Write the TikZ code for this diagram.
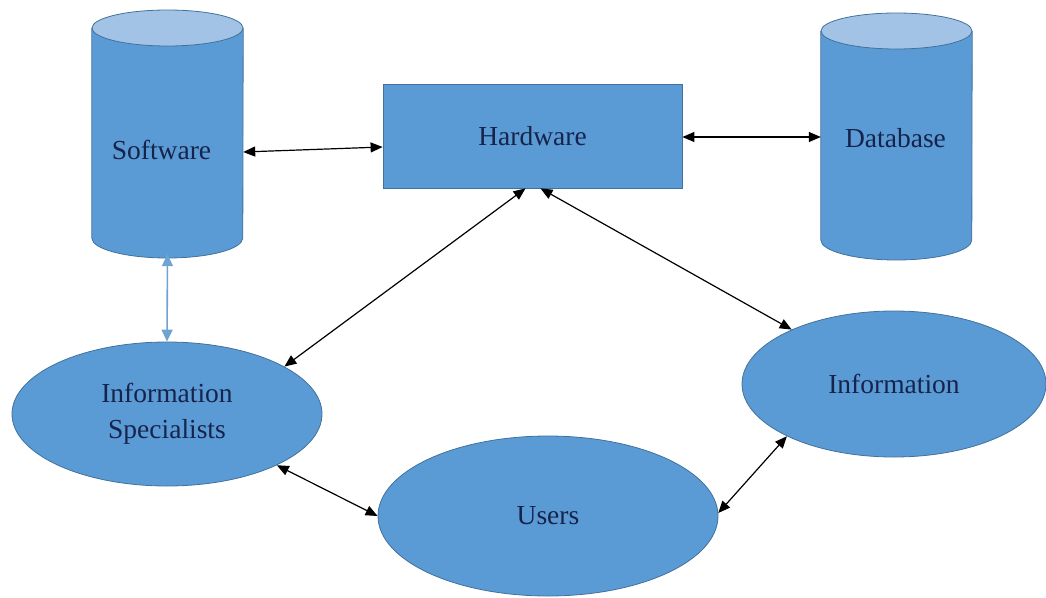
\documentclass[tikz,border=0pt]{standalone}
\usepackage{fontspec}
\setmainfont{Liberation Serif}
\usepackage{xcolor}
\usetikzlibrary{shapes.geometric, arrows.meta, positioning}

\definecolor{boxblue}{HTML}{5B9BD5}
\definecolor{edgeblue}{HTML}{41719C}
\definecolor{topblue}{HTML}{A2C3E6}
\definecolor{textnavy}{HTML}{16244C}
\definecolor{linkblue}{HTML}{6FA3D2}

\begin{document}
\begin{tikzpicture}[
    x=1pt, y=-1pt,
    every node/.style={text=textnavy, font=\fontsize{27.5}{36}\selectfont},
    store-frame/.style={rectangle, minimum width=151pt, minimum height=248pt, inner sep=0pt},
    store-body/.style={draw=edgeblue, thick, fill=boxblue},
    store-lid/.style={draw=edgeblue, thick, fill=topblue},
    hw-box/.style={rectangle, draw=edgeblue, thick, fill=boxblue,
        minimum width=299pt, minimum height=104pt},
    actor/.style={ellipse, draw=edgeblue, thick, fill=boxblue, align=center},
    link/.style={draw=black, line width=1.2pt, {Triangle[length=12pt,width=10pt]}-{Triangle[length=12pt,width=10pt]}},
    soft-link/.style={draw=linkblue, line width=1.6pt, {Triangle[length=12pt,width=11pt]}-{Triangle[length=12pt,width=11pt]}}
]

    \useasboundingbox (0,0) rectangle (1046,597);

    % cylinders
    \node[store-frame] (sw) at (167.5,134) {};
    \draw[store-body] (sw.west |- 0,28) -- (sw.west |- 0,238) arc (180:0:75.5 and 20) -- (sw.east |- 0,28);
    \draw[store-lid] (sw.north |- 0,28) ellipse (75.5 and 18);
    \node (swlabel) at (161.5,150) {Software};

    \node[store-frame] (db) at (896.5,136.5) {};
    \draw[store-body] (db.west |- 0,31) -- (db.west |- 0,240) arc (180:0:75.5 and 20) -- (db.east |- 0,31);
    \draw[store-lid] (db.north |- 0,31) ellipse (75.5 and 18);
    \node (dblabel) at (895.5,138) {Database};

    \node[hw-box] (hw) at (532.5,136) {Hardware};

    \node[actor, minimum width=310pt, minimum height=144pt] (spec) at (167,414) {Information\\Specialists};
    \node[actor, minimum width=304pt, minimum height=146pt] (info) at (894,384) {Information};
    \node[actor, minimum width=340pt, minimum height=160pt] (users) at (548,516) {Users};

    \draw[link] (sw.east |- 0,152) -- (hw.west |- 0,147);
    \draw[link] (hw.east |- 0,137) -- (db.west |- 0,137);
    \draw[link] ([xshift=-7pt]hw.south) -- (spec.22);
    \draw[link] ([xshift=8pt]hw.south) -- (info.152);
    \draw[link] (spec.-25) -- (users.180);
    \draw[link] (users.1) -- (info.206);
    \draw[soft-link] ([yshift=4pt]sw.south) -- (spec.north);

\end{tikzpicture}
\end{document}
